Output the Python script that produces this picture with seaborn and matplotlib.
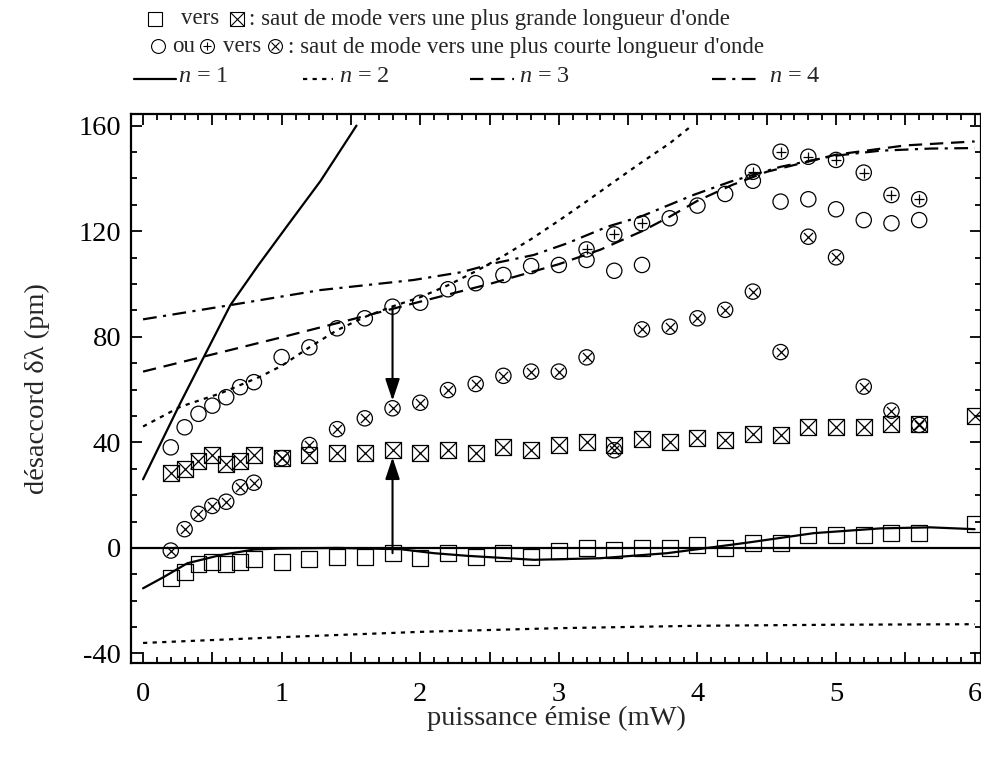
import matplotlib
matplotlib.use('Agg')
import matplotlib.pyplot as plt
from matplotlib.lines import Line2D
from matplotlib.ticker import MultipleLocator, FuncFormatter
import seaborn as sns

# ---------------- data ----------------
# emitted power (mW) of the measurements
x_meas = [0.2, 0.3, 0.4, 0.5, 0.6, 0.7, 0.8, 1.0, 1.2, 1.4, 1.6, 1.8, 2.0, 2.2, 2.4, 2.6,
          2.8, 3.0, 3.2, 3.4, 3.6, 3.8, 4.0, 4.2, 4.4, 4.6, 4.8, 5.0, 5.2, 5.4, 5.6]
x_sq = x_meas + [6.0]
# open squares (before jump to longer wavelength)
y_sq = [-11.5, -9.0, -6.0, -5.2, -6.0, -5.2, -4.2, -5.2, -4.2, -3.3, -3.3, -2.0, -4.0, -2.0,
        -3.3, -2.0, -3.3, -1.0, 0.0, -0.8, 0.0, 0.0, 1.2, 0.0, 2.0, 2.0, 4.9, 4.9, 4.9, 5.8,
        5.8, 9.0]
# crossed squares (after jump to longer wavelength)
y_sqx = [28.5, 29.8, 33.1, 35.2, 31.8, 33.1, 35.2, 34.0, 35.2, 35.9, 35.9, 37.1, 35.9, 37.1,
         35.9, 38.1, 37.1, 39.0, 40.3, 39.0, 41.2, 40.3, 41.7, 40.9, 43.1, 42.7, 45.9, 45.9,
         45.9, 47.0, 47.0, 50.0]
# open circles (before jump to shorter wavelength)
y_ci = [38.1, 45.7, 50.8, 53.9, 57.1, 60.9, 62.8, 72.3, 76.0, 83.2, 87.0, 91.4, 92.9, 98.0,
        100.3, 103.4, 106.8, 107.2, 109.1, 105.0, 107.2, 124.9, 129.7, 134.1, 139.1, 131.2,
        132.1, 128.3, 124.2, 123.0, 124.2]
# circles with cross (after jump to shorter wavelength)
y_cx = [-1.0, 7.1, 12.9, 15.9, 17.5, 23.0, 24.7, 34.0, 39.0, 45.0, 49.1, 52.9, 55.0, 59.8,
        62.1, 65.2, 66.8, 66.8, 72.2, 37.0, 82.8, 83.8, 87.0, 90.2, 97.1, 74.2, 117.9, 110.1,
        61.1, 52.0, 46.6]
# circles with plus
x_cp = [3.2, 3.4, 3.6, 4.4, 4.6, 4.8, 5.0, 5.2, 5.4, 5.6]
y_cp = [113.1, 118.8, 123.0, 142.5, 150.1, 148.2, 147.0, 142.2, 133.7, 132.1]

# model curves
n1a_x = [0.0, 0.27, 0.44, 0.63, 0.83, 1.04, 1.28, 1.54]
n1a_y = [26.0, 55.0, 72.5, 92.0, 107.0, 122.0, 139.0, 160.0]
n1b_x = [0.0, 0.15, 0.32, 0.56, 0.8, 1.0, 1.4, 1.86, 2.1, 2.34, 2.82, 3.3, 3.78, 4.0, 4.36,
         4.84, 5.32, 5.68, 6.0]
n1b_y = [-15.3, -11.0, -5.8, -2.7, -0.6, -0.2, 0.0, -0.5, -2.0, -3.0, -4.5, -3.9, -2.0, -0.5,
         2.0, 5.6, 7.4, 7.8, 7.1]
n2a_x = [0.0, 1.0, 2.0, 3.0, 4.0, 5.0, 6.0]
n2a_y = [-36.0, -33.8, -31.8, -30.4, -29.5, -29.1, -28.9]
n2b_x = [0.0, 0.27, 0.56, 0.85, 1.0, 1.2, 1.4, 1.6, 1.8, 2.0, 2.2, 2.4, 2.6, 2.8, 3.0, 3.2,
         3.4, 3.6, 3.8, 3.95]
n2b_y = [46.0, 53.5, 58.6, 65.0, 69.0, 76.0, 82.5, 87.5, 91.5, 95.0, 99.5, 104.8, 110.6,
         117.0, 124.0, 131.3, 138.8, 146.2, 153.3, 159.6]
n3_x = [0.0, 0.5, 1.0, 1.5, 2.0, 2.5, 3.0, 3.3, 3.6, 3.8, 4.0, 4.25, 4.5, 5.0, 5.5, 6.0]
n3_y = [66.8, 73.3, 79.8, 86.5, 93.3, 100.0, 107.5, 113.0, 120.0, 125.5, 131.5, 137.5, 142.5,
        149.0, 152.5, 154.0]
n4_x = [0.0, 0.63, 1.28, 1.95, 2.3, 2.53, 2.82, 3.06, 3.35, 3.59, 3.97, 4.24, 4.6, 4.98, 5.32,
        5.68, 6.0]
n4_y = [86.6, 92.0, 97.7, 101.5, 104.5, 107.8, 111.0, 115.4, 121.7, 125.5, 133.7, 138.8, 144.4,
        148.5, 150.5, 151.3, 151.5]

# arrows at 1.8 mW
arrow_x = 1.8
arrow_down = (91.4, 55.8)
arrow_up = (-2.0, 34.3)

# ---------------- style ----------------
sns.set_style('ticks')
plt.rcParams['font.family'] = ['Liberation Serif', 'DejaVu Sans']
plt.rcParams['mathtext.fontset'] = 'custom'
plt.rcParams['mathtext.it'] = 'Liberation Serif:italic'
plt.rcParams['mathtext.rm'] = 'Liberation Serif'
plt.rcParams['axes.unicode_minus'] = False

W, H = 981, 758
fig = plt.figure(figsize=(W / 100, H / 100), dpi=100)
ax = fig.add_axes([131 / W, 95 / H, 850 / W, 549 / H])

LW = 1.6
ls_n2 = (0, (1.9, 2.4))
ls_n3 = (0, (6.0, 3.5))
ls_n4 = (0, (6.2, 2.9, 1.4, 2.9))

ax.axhline(0, color='k', lw=1.6, zorder=2)
sns.lineplot(x=n1a_x, y=n1a_y, ax=ax, color='k', lw=LW, errorbar=None)
sns.lineplot(x=n1b_x, y=n1b_y, ax=ax, color='k', lw=LW, errorbar=None)
sns.lineplot(x=n2a_x, y=n2a_y, ax=ax, color='k', lw=LW, linestyle=ls_n2, errorbar=None)
sns.lineplot(x=n2b_x, y=n2b_y, ax=ax, color='k', lw=LW, linestyle=ls_n2, errorbar=None)
sns.lineplot(x=n3_x, y=n3_y, ax=ax, color='k', lw=LW, linestyle=ls_n3, errorbar=None)
sns.lineplot(x=n4_x, y=n4_y, ax=ax, color='k', lw=LW, linestyle=ls_n4, errorbar=None)

MS_SQ = 11.5
MS_CI = 11.0
open_kw = dict(facecolor='none', edgecolor='k', linewidth=0.9, legend=False, zorder=3)
line_kw = dict(color='k', linewidth=0.9, legend=False, zorder=3)

sns.scatterplot(x=x_sq, y=y_sq, ax=ax, marker='s', s=MS_SQ ** 2, **open_kw)
sns.scatterplot(x=x_sq, y=y_sqx, ax=ax, marker='s', s=MS_SQ ** 2, **open_kw)
sns.scatterplot(x=x_sq, y=y_sqx, ax=ax, marker='x', s=MS_SQ ** 2, **line_kw)
sns.scatterplot(x=x_meas, y=y_ci, ax=ax, marker='o', s=MS_CI ** 2, **open_kw)
sns.scatterplot(x=x_meas, y=y_cx, ax=ax, marker='o', s=MS_CI ** 2, **open_kw)
sns.scatterplot(x=x_meas, y=y_cx, ax=ax, marker='x', s=(0.6 * MS_CI) ** 2, **line_kw)
sns.scatterplot(x=x_cp, y=y_cp, ax=ax, marker='o', s=MS_CI ** 2, **open_kw)
sns.scatterplot(x=x_cp, y=y_cp, ax=ax, marker='+', s=(0.65 * MS_CI) ** 2, **line_kw)

arrow_kw = dict(arrowstyle='-|>,head_length=0.6,head_width=0.2', color='k', lw=1.5,
                mutation_scale=22, shrinkA=0, shrinkB=0)
ax.annotate('', xy=(arrow_x, arrow_down[1]), xytext=(arrow_x, arrow_down[0]),
            arrowprops=arrow_kw)
ax.annotate('', xy=(arrow_x, arrow_up[1]), xytext=(arrow_x, arrow_up[0]),
            arrowprops=arrow_kw)

# axes, ticks
ax.set_xlim(-0.087, 6.046)
ax.set_ylim(-43.6, 164.4)
ax.xaxis.set_major_locator(MultipleLocator(0.5))
ax.xaxis.set_minor_locator(MultipleLocator(0.1))
ax.xaxis.set_major_formatter(FuncFormatter(
    lambda v, p: f"{v:.0f}" if abs(v - round(v)) < 1e-6 else ""))
ax.yaxis.set_major_locator(MultipleLocator(40))
ax.yaxis.set_minor_locator(MultipleLocator(10))
ax.tick_params(which='both', direction='in', top=True, right=True, width=1.3,
               labelsize=20.5, colors='k')
ax.tick_params(which='major', length=8)
ax.tick_params(which='minor', length=4.5)
ax.tick_params(axis='x', pad=14)
ax.tick_params(axis='y', pad=7)
for s in ax.spines.values():
    s.set_linewidth(1.6)
    s.set_color('k')

ax.set_xlabel('puissance émise (mW)', fontsize=20.5)
ax.set_ylabel('désaccord δλ (pm)', fontsize=20.5)
ax.xaxis.set_label_coords(0.5, -0.078)
ax.yaxis.set_label_coords(-0.095, 0.5)

# ---------------- legend drawn in figure coordinates ----------------
def fx(px):
    return px / W


def fy(py):
    return 1 - py / H


def sym(px, py, marker, ms):
    fig.add_artist(Line2D([fx(px)], [fy(py)], transform=fig.transFigure, marker=marker,
                          ms=ms, mfc='none', mec='k', mew=0.8, color='k', linestyle=''))


LEG_FS = 16.5
sym(155, 19, 's', 9.5)
fig.text(fx(181), fy(19), 'vers', fontsize=LEG_FS, ha='left', va='center')
sym(237, 19, 's', 9.5)
sym(237, 19, 'x', 9.5)
fig.text(fx(249), fy(19), ": saut de mode vers une plus grande longueur d'onde",
         fontsize=LEG_FS, ha='left', va='center')

sym(158, 46, 'o', 10)
fig.text(fx(172), fy(47), 'ou', fontsize=LEG_FS, ha='left', va='center')
sym(207, 46, 'o', 10)
sym(207, 46, '+', 6)
fig.text(fx(223), fy(47), 'vers', fontsize=LEG_FS, ha='left', va='center')
sym(275, 46, 'o', 10)
sym(275, 46, 'x', 5.5)
fig.text(fx(288), fy(47), ": saut de mode vers une plus courte longueur d'onde",
         fontsize=LEG_FS, ha='left', va='center')

legend_items = [
    ('-', 134, 176, 178, '1'),
    (ls_n2, 303, 333, 339, '2'),
    (ls_n3, 470, 514, 519, '3'),
    (ls_n4, 712, 762, 769, '4'),
]
for ls, x0, x1, xt, lab in legend_items:
    fig.add_artist(Line2D([fx(x0), fx(x1)], [fy(79), fy(79)], transform=fig.transFigure,
                          color='k', lw=LW, linestyle=ls))
    fig.text(fx(xt), fy(77), f'$n$ = {lab}', fontsize=17.5, ha='left', va='center')

fig.savefig('out.png', dpi=100)
